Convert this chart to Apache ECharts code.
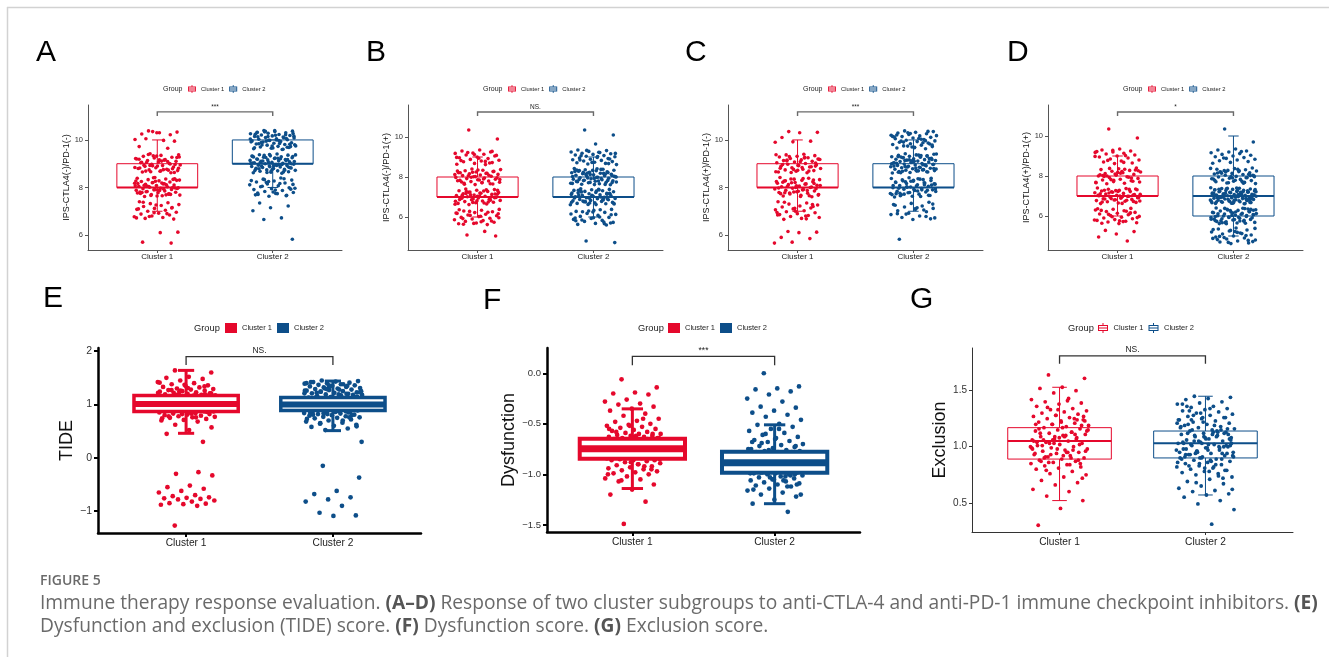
<!DOCTYPE html>
<html>
<head>
<meta charset="utf-8">
<title>Figure 5</title>
<script src="https://cdn.jsdelivr.net/npm/echarts@6/dist/echarts.min.js"></script>
<style>
  html, body { margin: 0; padding: 0; background: #fff; }
  #main { width: 1329px; height: 657px; }
</style>
</head>
<body>
<div id="main"></div>
<script>
// ---- data ----
const categories = ['Cluster 1', 'Cluster 2']
const yTitles = ['IPS-CTLA4(-)/PD-1(-)', 'IPS-CTLA4(-)/PD-1(+)', 'IPS-CTLA4(+)/PD-1(-)', 'IPS-CTLA4(+)/PD-1(+)', 'TIDE', 'Dysfunction', 'Exclusion']
const sigLabels = ['***', 'NS.', '***', '*', 'NS.', '***', 'NS.']
const yTickValues = [[6, 8, 10], [6, 8, 10], [6, 8, 10], [6, 8, 10], [-1, 0, 1, 2], [-1.5, -1, -0.5, 0], [0.5, 1, 1.5]]

// box stats: [min, Q1, median, Q3, max] for Cluster 1, Cluster 2
const boxA = [[7, 8, 8, 9, 10], [8, 9, 9, 10, 10]]
const boxB = [[6, 7, 7, 8, 9], [6, 7, 7, 8, 9]]
const boxC = [[7, 8, 8, 9, 10], [7, 8, 8, 9, 10]]
const boxD = [[6, 7, 7, 8, 9], [5, 6, 7, 8, 10]]
const boxE = [[0.46, 0.87, 1.01, 1.17, 1.64], [0.51, 0.89, 1.0, 1.13, 1.44]]
const boxF = [[-1.14, -0.845, -0.747, -0.648, -0.352], [-1.29, -0.984, -0.885, -0.776, -0.51]]
const boxG = [[0.52, 0.89, 1.05, 1.17, 1.53], [0.57, 0.9, 1.03, 1.14, 1.45]]

// jittered sample values
const ptsA1 = [10.38,10.33,10.3,10.25,10.22,10.35,10.02,9.98,10.05,9.95,10.3,9.72,9.65,
  9.42,9.38,9.35,9.31,9.27,9.24,9.2,9.17,9.13,9.1,9.07,9.04,9.01,8.98,8.95,8.92,8.89,8.86,8.83,8.8,8.77,8.74,8.71,8.68,8.65,8.62,9.33,9.22,9.15,9.05,8.97,8.9,8.82,8.73,8.66,9.28,9.11,8.94,8.79,
  8.42,8.39,8.36,8.33,8.3,8.28,8.25,8.23,8.2,8.18,8.15,8.13,8.1,8.08,8.05,8.03,8.01,7.99,7.97,7.95,7.92,7.9,7.88,7.85,7.83,7.8,7.78,7.75,7.73,7.7,7.68,7.65,7.62,8.34,8.26,8.17,8.11,8.04,7.96,7.87,7.79,7.71,8.21,8.07,7.93,7.82,8.37,7.64,
  7.4,7.36,7.32,7.28,7.24,7.2,7.16,7.12,7.08,7.04,7.0,6.96,6.92,6.88,6.84,6.8,6.77,6.74,6.7,6.67,7.26,7.1,6.9,6.78,
  6.12,6.1,5.7,5.66,
  8.41,8.27,8.16,8.06,7.98,7.89,7.81,7.72,7.66,8.31,8.19,8.09,8.0,7.91,7.77,7.69,9.39,9.26,9.16,9.06,8.99,8.91,8.84,8.75,8.69,8.63,9.32,9.19,9.09,8.93,8.81,8.7,7.38,7.14,6.94,6.72]
const ptsA2 = [10.4,10.37,10.35,10.32,10.3,10.28,10.26,10.23,10.21,10.19,10.17,10.15,10.12,10.1,10.08,10.05,10.03,10.01,9.98,9.96,9.93,9.91,9.88,9.86,9.83,9.81,9.78,9.75,9.73,9.7,9.68,9.65,9.63,9.6,10.34,10.27,10.2,10.13,10.06,9.99,9.92,9.85,9.79,9.72,9.66,10.24,10.09,9.95,9.8,
  9.41,9.38,9.36,9.33,9.31,9.29,9.27,9.25,9.22,9.2,9.18,9.16,9.14,9.12,9.1,9.08,9.06,9.04,9.02,9.0,8.98,8.96,8.94,8.92,8.9,8.88,8.86,8.84,8.82,8.8,8.78,8.76,8.74,8.72,8.7,8.68,8.66,8.64,8.62,8.6,9.35,9.3,9.24,9.19,9.13,9.07,9.01,8.95,8.89,8.83,8.77,8.71,8.65,9.26,9.09,8.93,8.79,9.17,8.87,9.03,
  8.4,8.35,8.31,8.27,8.23,8.19,8.15,8.11,8.07,8.03,7.99,7.95,7.91,7.87,7.83,7.79,7.75,7.71,7.67,7.63,8.29,8.17,8.05,7.93,7.81,7.69,8.37,8.21,7.97,7.74,
  7.35,7.22,7.15,7.02,6.72,6.65,5.82,
  10.39,10.31,10.22,10.14,10.04,9.97,9.89,9.82,9.74,9.67,9.61,10.36,10.16,10.0,9.84,9.69,9.39,9.32,9.21,9.11,9.0,8.91,8.81,8.73,8.63,9.37,9.23,9.05,8.85,8.69,9.28,8.97,8.33,8.13,7.89,7.77,7.65,8.25]
const ptsB1 = [10.35,9.9,
  9.35,9.3,9.25,9.2,9.18,9.14,9.1,9.05,9.0,8.96,8.92,8.88,8.84,8.8,8.76,8.72,8.68,8.64,8.62,9.22,9.08,8.94,8.82,8.7,
  8.4,8.37,8.34,8.31,8.28,8.25,8.22,8.19,8.16,8.13,8.1,8.07,8.04,8.01,7.98,7.95,7.92,7.89,7.86,7.83,7.8,7.77,7.74,7.71,7.68,7.65,7.62,8.3,8.18,8.06,7.96,7.85,7.75,7.66,8.24,8.12,7.9,
  7.4,7.37,7.34,7.31,7.28,7.25,7.22,7.19,7.16,7.13,7.1,7.07,7.04,7.01,6.98,6.95,6.92,6.89,6.86,6.83,6.8,6.77,6.74,6.71,6.68,6.65,6.62,7.33,7.2,7.09,6.99,6.9,6.79,6.7,7.27,7.15,7.03,6.87,6.75,7.11,
  6.38,6.34,6.3,6.26,6.22,6.18,6.14,6.1,6.06,6.02,5.98,5.94,5.9,5.86,5.82,5.78,5.74,5.7,5.66,5.62,6.28,6.16,6.04,5.92,5.8,5.68,6.2,
  5.28,5.1,5.05,
  8.35,8.21,8.09,7.99,7.87,7.72,7.64,8.27,8.02,7.81,7.36,7.24,7.14,7.05,6.94,6.84,6.73,6.64,7.3,7.18,6.96,6.81,6.36,6.24,6.08,5.96,5.76,5.64,9.28,9.12,8.98,8.78]
const ptsB2 = [10.35,10.1,9.65,
  9.35,9.32,9.28,9.25,9.22,9.19,9.16,9.13,9.1,9.07,9.04,9.01,8.98,8.95,8.92,8.89,8.86,8.83,8.8,8.77,8.74,8.71,8.68,8.65,8.62,9.24,9.06,8.9,8.73,
  8.42,8.39,8.36,8.34,8.31,8.29,8.26,8.24,8.21,8.19,8.16,8.14,8.11,8.09,8.06,8.04,8.01,7.99,7.96,7.94,7.91,7.89,7.86,7.84,7.81,7.79,7.76,7.74,7.71,7.69,7.66,7.64,7.61,8.33,8.28,8.18,8.13,8.03,7.98,7.88,7.83,7.73,7.68,8.38,8.23,8.08,7.93,7.78,7.63,8.2,8.0,7.8,
  7.41,7.38,7.36,7.33,7.31,7.28,7.26,7.23,7.21,7.18,7.16,7.13,7.11,7.08,7.06,7.03,7.01,6.98,6.96,6.93,6.91,6.88,6.86,6.83,6.81,6.78,6.76,6.73,6.71,6.68,6.66,6.63,6.61,7.35,7.25,7.15,7.05,6.95,6.85,6.75,6.65,7.3,7.1,6.9,6.7,7.2,7.0,6.8,
  6.38,6.33,6.28,6.23,6.18,6.13,6.08,6.03,5.98,5.93,5.88,5.83,5.78,5.73,5.68,5.63,5.6,6.3,6.15,6.0,5.85,5.7,6.25,5.95,5.75,
  4.8,4.72,
  8.41,8.32,8.22,8.12,8.02,7.92,7.82,7.72,7.62,8.35,8.15,7.95,7.75,7.39,7.29,7.19,7.09,6.99,6.89,6.79,6.69,6.62,7.34,7.14,6.94,6.74,6.36,6.26,6.11,5.96,5.81,5.66,9.33,9.18,9.02,8.85,8.67]
const ptsC1 = [10.35,10.32,10.3,10.1,9.95,9.92,9.9,
  9.4,9.37,9.34,9.31,9.28,9.25,9.22,9.19,9.16,9.13,9.1,9.07,9.04,9.01,8.98,8.95,8.92,8.89,8.86,8.83,8.8,8.77,8.74,8.71,8.68,8.65,8.62,9.3,9.2,9.08,8.97,8.87,8.76,8.66,9.24,9.12,8.9,8.72,
  8.42,8.39,8.36,8.33,8.3,8.27,8.24,8.21,8.18,8.15,8.12,8.09,8.06,8.03,8.0,7.97,7.94,7.91,7.88,7.85,7.82,7.79,7.76,7.73,7.7,7.67,7.64,7.61,8.35,8.25,8.14,8.04,7.95,7.84,7.74,7.65,8.2,8.08,7.9,7.78,8.31,8.0,
  7.4,7.35,7.3,7.26,7.22,7.18,7.14,7.1,7.06,7.02,6.98,6.94,6.9,6.86,6.82,6.78,6.74,6.7,6.66,7.28,7.12,6.95,6.8,
  6.15,6.12,6.1,5.9,5.85,5.7,5.66,
  8.38,8.28,8.17,8.07,7.98,7.87,7.77,7.68,7.62,8.22,8.02,7.81,9.38,9.27,9.15,9.03,8.93,8.81,8.69,8.63,9.18,8.84,7.38,7.2,7.0,6.84,6.68]
const ptsC2 = [10.38,10.35,10.32,10.29,10.26,10.23,10.2,10.17,10.14,10.11,10.08,10.05,10.02,9.99,9.96,9.93,9.9,9.87,9.84,9.81,9.78,9.75,9.72,9.69,9.66,9.63,10.3,10.18,10.06,9.95,9.83,9.7,10.12,9.88,
  9.42,9.4,9.37,9.35,9.33,9.31,9.29,9.27,9.25,9.23,9.21,9.19,9.17,9.15,9.13,9.11,9.09,9.07,9.05,9.03,9.01,8.99,8.97,8.95,8.93,8.91,8.89,8.87,8.85,8.83,8.81,8.79,8.77,8.75,8.73,8.71,8.69,8.67,8.65,8.63,8.61,9.34,9.26,9.18,9.1,9.02,8.94,8.86,8.78,8.7,8.62,9.22,9.06,8.9,8.74,9.14,8.98,8.82,9.3,8.66,
  8.41,8.38,8.35,8.32,8.29,8.26,8.23,8.2,8.17,8.14,8.11,8.08,8.05,8.02,7.99,7.96,7.93,7.9,7.87,7.84,7.81,7.78,7.75,7.72,7.69,7.66,7.63,7.6,8.33,8.24,8.15,8.06,7.97,7.88,7.79,7.7,7.62,8.28,8.1,7.92,7.74,8.19,8.01,7.83,8.37,7.65,
  7.38,7.33,7.28,7.22,7.18,7.12,7.08,7.02,6.98,6.92,6.86,6.8,6.74,6.68,6.65,7.25,7.05,6.88,6.72,7.15,
  5.82,
  10.36,10.27,10.15,10.03,9.91,9.79,9.67,10.21,9.97,9.74,9.41,9.36,9.28,9.2,9.12,9.04,8.96,8.88,8.8,8.72,8.64,9.32,9.16,9.0,8.84,8.68,8.39,8.3,8.21,8.12,8.03,7.94,7.85,7.76,7.67,8.26,8.08,7.9,7.72,7.3,7.1,6.9,6.78]
const ptsD1 = [10.35,9.9,
  9.35,9.3,9.25,9.2,9.18,9.14,9.1,9.05,9.0,8.95,8.9,8.85,8.8,8.75,8.7,8.65,8.62,9.22,9.02,8.78,
  8.4,8.36,8.32,8.28,8.24,8.2,8.16,8.12,8.08,8.04,8.0,7.96,7.92,7.88,7.84,7.8,7.76,7.72,7.68,7.64,7.61,8.3,8.18,8.06,7.94,7.82,7.7,8.22,7.98,7.74,8.1,
  7.4,7.37,7.34,7.31,7.28,7.25,7.22,7.19,7.16,7.13,7.1,7.07,7.04,7.01,6.98,6.95,6.92,6.89,6.86,6.83,6.8,6.77,6.74,6.71,6.68,6.65,6.62,7.33,7.21,7.09,6.97,6.85,6.73,7.27,7.03,6.79,7.15,6.91,7.0,6.7,
  6.38,6.34,6.3,6.26,6.22,6.18,6.14,6.1,6.06,6.02,5.98,5.94,5.9,5.86,5.82,5.78,5.74,5.7,5.66,5.62,6.28,6.12,5.96,5.8,5.72,
  5.28,5.22,5.1,4.95,4.75,
  8.38,8.26,8.14,8.02,7.9,7.78,7.66,8.34,8.0,7.35,7.23,7.11,6.99,6.87,6.75,6.63,7.29,7.05,6.81,6.36,6.24,6.08,5.92,5.76,5.64,6.16,9.28,8.98,8.68]
const ptsD2 = [10.35,9.7,
  9.35,9.3,9.25,9.2,9.16,9.12,9.08,9.04,9.0,8.96,8.92,8.88,8.84,8.8,8.76,8.72,8.68,8.64,9.22,8.9,
  8.4,8.37,8.34,8.31,8.28,8.25,8.22,8.19,8.16,8.13,8.1,8.07,8.04,8.01,7.98,7.95,7.92,7.89,7.86,7.83,7.8,7.77,7.74,7.71,7.68,7.65,7.62,8.33,8.21,8.09,7.97,7.85,7.73,8.27,8.03,7.79,8.15,7.91,7.66,
  7.41,7.39,7.37,7.35,7.33,7.31,7.29,7.27,7.25,7.23,7.21,7.19,7.17,7.15,7.13,7.11,7.09,7.07,7.05,7.03,7.01,6.99,6.97,6.95,6.93,6.91,6.89,6.87,6.85,6.83,6.81,6.79,6.77,6.75,6.73,6.71,6.69,6.67,6.65,6.63,6.61,7.36,7.32,7.28,7.24,7.2,7.16,7.12,7.08,7.04,7.0,6.96,6.92,6.88,6.84,6.8,6.76,6.72,6.68,6.64,7.3,7.22,7.14,7.06,6.98,6.9,6.82,6.74,6.66,7.18,7.02,6.86,6.7,
  6.4,6.37,6.34,6.31,6.28,6.25,6.22,6.19,6.16,6.13,6.1,6.07,6.04,6.01,5.98,5.95,5.92,5.89,5.86,5.83,5.8,5.77,5.74,5.71,5.68,5.65,5.62,6.35,6.27,6.18,6.09,6.0,5.91,5.82,5.73,5.64,6.3,6.12,5.94,5.76,6.21,6.03,5.85,6.39,5.67,6.06,
  5.4,5.35,5.3,5.25,5.2,5.15,5.1,5.05,5.0,4.95,4.9,4.85,4.8,4.75,4.7,4.65,4.62,5.32,5.12,4.92,4.72,5.22,4.82,5.02,4.68,
  8.38,8.26,8.14,8.02,7.9,7.78,7.64,8.2,7.96,7.4,7.34,7.26,7.19,7.1,7.03,6.94,6.87,6.78,6.7,6.62,7.38,7.21,7.07,6.93,6.79,6.64,7.13,6.97,6.38,6.29,6.2,6.11,6.02,5.93,5.84,5.75,5.66,6.33,6.15,5.97,5.79,5.61,5.38,5.18,4.98,4.78,5.28,4.88]
const ptsE1 = [1.64,1.6,1.52,1.5,1.48,1.45,1.42,1.4,1.38,1.36,1.35,1.33,1.32,1.3,1.29,1.28,1.27,1.26,1.25,1.24,1.23,1.22,1.21,1.2,1.19,1.18,1.18,1.17,1.16,1.15,1.15,1.14,1.13,1.12,1.12,1.11,1.1,1.1,1.09,1.08,1.08,1.07,1.06,1.06,1.05,1.05,1.04,1.03,1.03,1.02,1.02,1.01,1.0,1.0,0.99,0.99,0.98,0.97,0.97,0.96,0.96,0.95,0.94,0.94,0.93,0.92,0.92,0.91,0.9,0.9,0.89,0.88,0.87,0.86,0.85,0.84,0.83,0.82,0.81,0.8,0.79,0.78,0.77,0.76,0.75,0.73,0.71,0.7,0.68,0.62,0.57,0.52,0.45,0.3,
  1.26,1.22,1.17,1.13,1.09,1.04,1.0,0.96,0.91,0.87,0.83,0.78,1.19,1.14,1.07,1.01,0.95,0.89,1.31,1.11,0.93,1.24,0.98,1.16,1.06,0.86,1.37,0.74,
  -0.27,-0.3,-0.33,-0.52,-0.55,-0.58,-0.62,-0.65,-0.7,-0.72,-0.74,-0.75,-0.76,-0.77,-0.78,-0.8,-0.82,-0.85,-0.86,-0.87,-0.88,-0.9,-1.27,
  1.21,1.15,1.09,1.03,0.97,0.91,0.85,1.27,1.12,1.02,0.94,0.88,1.18,1.08,0.99,0.9,1.34,0.82,1.41,0.76,1.05,1.2,0.95,1.1,1.0]
const ptsE2 = [1.45,1.44,1.43,1.42,1.41,1.4,1.39,1.38,1.37,1.36,1.35,1.34,1.33,1.32,1.31,1.3,1.29,1.28,1.27,1.26,1.25,1.24,1.23,1.22,1.21,1.2,1.19,1.18,1.17,1.16,1.15,1.14,1.13,1.12,1.11,1.1,1.09,1.08,1.07,1.06,1.05,1.04,1.03,1.02,1.01,1.0,0.99,0.98,0.97,0.96,0.95,0.94,0.93,0.92,0.91,0.9,0.89,0.88,0.87,0.86,0.85,0.84,0.83,0.82,0.81,0.8,0.79,0.78,0.77,0.76,0.75,0.74,0.72,0.7,0.68,0.66,0.64,0.62,0.6,0.58,0.55,0.52,0.3,
  1.28,1.22,1.18,1.14,1.1,1.06,1.02,0.98,0.94,0.9,0.86,0.82,1.26,1.16,1.08,1.0,0.92,0.84,1.2,1.04,0.96,0.88,1.12,0.8,1.33,0.73,1.38,1.24,1.15,1.05,0.95,0.85,1.09,0.99,0.9,1.01,1.13,0.97,1.07,0.93,
  -0.15,-0.37,-0.62,-0.68,-0.74,-0.78,-0.82,-0.9,-1.03,-1.08,-1.09,
  1.42,1.35,1.3,1.25,1.19,1.14,1.1,1.06,1.02,0.98,0.94,0.9,0.86,0.81,0.76,1.29,1.21,1.17,1.11,1.03,0.96,0.91,0.87,0.83,1.23,1.07,0.97,0.89,1.36,1.4,0.7,0.65,0.59]
const ptsF1 = [-0.06,-0.14,-0.19,-0.2,-0.21,-0.26,-0.28,-0.3,-0.31,-0.33,-0.35,-0.37,-0.4,-0.42,-0.45,-0.47,-0.48,-0.5,-0.51,-0.52,-0.53,-0.54,-0.55,-0.56,-0.57,-0.58,-0.59,-0.6,-0.6,-0.61,-0.62,-0.62,-0.63,-0.63,-0.64,-0.64,-0.65,-0.65,-0.66,-0.66,-0.67,-0.67,-0.68,-0.68,-0.69,-0.69,-0.7,-0.7,-0.71,-0.71,-0.72,-0.72,-0.73,-0.73,-0.74,-0.74,-0.75,-0.75,-0.76,-0.76,-0.77,-0.77,-0.78,-0.78,-0.79,-0.79,-0.8,-0.8,-0.81,-0.81,-0.82,-0.82,-0.83,-0.83,-0.84,-0.84,-0.85,-0.85,-0.86,-0.86,-0.87,-0.88,-0.89,-0.9,-0.91,-0.92,-0.93,-0.94,-0.95,-0.96,-0.97,-0.98,-0.99,-1.0,-1.02,-1.04,-1.05,-1.07,-1.1,-1.15,-1.2,-1.27,-1.49,
  -0.64,-0.68,-0.72,-0.76,-0.8,-0.84,-0.66,-0.7,-0.74,-0.78,-0.82,-0.65,-0.73,-0.81,-0.69,-0.77,-0.6,-0.88,-0.55,-0.92,-0.71,-0.75,
  -0.62,-0.67,-0.71,-0.74,-0.77,-0.8,-0.83,-0.86,-0.63,-0.69,-0.75,-0.79,-0.85,-0.9,-0.58,-0.95,-0.52,-1.0,-0.45,-1.06]
const ptsF2 = [0.0,-0.13,-0.15,-0.16,-0.18,-0.21,-0.25,-0.28,-0.33,-0.34,-0.37,-0.39,-0.41,-0.43,-0.46,-0.5,-0.51,-0.53,-0.55,-0.57,-0.59,-0.61,-0.63,-0.64,-0.66,-0.67,-0.68,-0.7,-0.71,-0.72,-0.73,-0.74,-0.75,-0.76,-0.77,-0.77,-0.78,-0.78,-0.79,-0.79,-0.8,-0.8,-0.81,-0.81,-0.82,-0.82,-0.83,-0.83,-0.84,-0.84,-0.85,-0.85,-0.86,-0.86,-0.87,-0.87,-0.88,-0.88,-0.89,-0.89,-0.9,-0.9,-0.91,-0.91,-0.92,-0.92,-0.93,-0.93,-0.94,-0.94,-0.95,-0.95,-0.96,-0.96,-0.97,-0.97,-0.98,-0.98,-0.99,-0.99,-1.0,-1.0,-1.01,-1.02,-1.03,-1.04,-1.05,-1.06,-1.07,-1.08,-1.09,-1.1,-1.11,-1.12,-1.14,-1.16,-1.18,-1.2,-1.22,-1.25,-1.29,-1.37,
  -0.8,-0.83,-0.86,-0.89,-0.92,-0.95,-0.98,-0.81,-0.84,-0.87,-0.9,-0.93,-0.96,-0.99,-0.82,-0.88,-0.94,-1.0,-0.79,-0.85,-0.91,-0.97,-0.86,-0.92,-0.89,-0.78,-1.03,-0.75,-1.06,-0.69,-1.1,-0.65,-1.15,
  -0.78,-0.81,-0.84,-0.87,-0.9,-0.93,-0.96,-0.99,-1.02,-0.8,-0.85,-0.91,-0.95,-1.01,-0.76,-0.88,-0.92,-0.98,-0.72,-1.05,-0.68,-1.12,-0.6,-1.2,-0.55,-0.83,-0.94,-0.97,-0.87]
const ptsG1 = [1.64,1.61,1.53,1.52,1.5,1.48,1.42,1.41,1.4,1.39,1.38,1.36,1.34,1.33,1.32,1.31,1.3,1.29,1.28,1.27,1.26,1.25,1.24,1.23,1.22,1.21,1.2,1.19,1.18,1.17,1.16,1.15,1.14,1.13,1.12,1.11,1.1,1.09,1.08,1.07,1.06,1.05,1.04,1.03,1.02,1.01,1.0,0.99,0.98,0.97,0.96,0.95,0.94,0.93,0.92,0.91,0.9,0.89,0.88,0.87,0.86,0.85,0.84,0.83,0.82,0.81,0.8,0.78,0.76,0.75,0.73,0.7,0.68,0.66,0.62,0.6,0.56,0.52,0.45,0.3,
  1.25,1.2,1.15,1.1,1.06,1.02,0.98,0.94,0.9,0.86,1.23,1.17,1.12,1.07,1.03,0.99,0.95,0.91,1.19,1.08,1.04,0.97,0.93,1.14,1.09,1.01,0.88,1.28,1.05,0.84,1.35,
  1.27,1.22,1.16,1.11,1.06,1.0,0.95,0.9,0.85,1.33,1.2,1.13,1.03,0.96,0.92,0.87,1.24,1.09,0.98,1.43,0.79,0.72]
const ptsG2 = [1.45,1.44,1.43,1.42,1.4,1.39,1.38,1.36,1.35,1.34,1.33,1.32,1.31,1.3,1.29,1.28,1.27,1.26,1.25,1.24,1.23,1.22,1.21,1.2,1.19,1.18,1.17,1.16,1.15,1.14,1.13,1.12,1.11,1.1,1.09,1.08,1.07,1.06,1.05,1.04,1.03,1.02,1.01,1.0,0.99,0.98,0.97,0.96,0.95,0.94,0.93,0.92,0.91,0.9,0.89,0.88,0.87,0.86,0.85,0.84,0.83,0.82,0.81,0.8,0.79,0.78,0.77,0.76,0.75,0.73,0.71,0.69,0.67,0.65,0.63,0.61,0.6,0.58,0.57,0.55,0.52,0.49,0.44,0.31,
  1.32,1.26,1.22,1.18,1.14,1.1,1.06,1.02,0.98,0.94,0.9,0.86,0.82,1.24,1.16,1.08,1.04,1.0,0.96,0.92,0.88,1.2,1.12,1.03,0.95,0.84,1.28,1.07,0.99,0.91,1.15,1.05,0.97,1.11,0.93,1.01,1.09,0.89,1.13,0.94,1.03,0.78,1.36,0.72,
  1.3,1.24,1.19,1.15,1.11,1.07,1.03,0.99,0.95,0.91,0.87,0.83,0.79,1.26,1.17,1.09,1.05,1.01,0.97,0.93,0.89,0.85,1.21,1.13,1.02,0.94,0.81,1.38,0.74,0.68,0.62,1.34,1.12,1.0,0.9]

const captionTitle = 'FIGURE 5'
const captionLines = [
  'Immune therapy response evaluation. {b|(A–D)} Response of two cluster subgroups to anti-CTLA-4 and anti-PD-1 immune checkpoint inhibitors. {b|(E)}',
  'Dysfunction and exclusion (TIDE) score. {b|(F)} Dysfunction score. {b|(G)} Exclusion score.'
]

// ---- layout ----
const colors = ['#E5082C', '#0D4E89']
const FONT = 'Liberation Sans, Arial, sans-serif'
const boxIcon = 'path://M4.5,0H5.5V2H10V8H5.5V10H4.5V8H0V2H4.5Z M1,3V4.5H9V3Z M1,5.5V7H9V5.5Z'

const small = {
  axisColor: '#555', axisWidth: 1, tickLen: 3, tickFont: 7.5, xFont: 8, nameFont: 9, nameGap: 14,
  dot: 3.6, boxW: 0.35, capW: 0.045, boxLW: 1, medLW: 2, whLW: 1, fill: 'none',
  brColor: '#6a6a6a', brLW: 1.4, brFont: 6.5, legFont: 5.8, groupFont: 7, icon: boxIcon, iconW: 8, iconH: 8, legTop: 85, groupY: 89
}
const thick = {
  axisColor: '#000', axisWidth: 2.5, tickLen: 4, tickFont: 10.5, xFont: 10.2, nameFont: 18, nameGap: 13,
  dot: 4.7, boxW: 0.355, capW: 0.055, boxLW: 3.5, medLW: 6, whLW: 3, fill: '#fff',
  brColor: '#333', brLW: 1.3, brFont: 8.5, legFont: 7.5, groupFont: 9.3, icon: 'rect', iconW: 12, iconH: 10, legTop: 323, groupY: 328
}
const thin = Object.assign({}, thick, {
  axisColor: '#333', axisWidth: 1, tickLen: 3, tickFont: 10, dot: 3.8, capW: 0.05, boxLW: 1, medLW: 2, whLW: 1,
  fill: 'none', nameGap: 22, icon: boxIcon, iconW: 11, iconH: 10
})

const panels = [
  { letter: 'A', lp: [36, 53], grid: { left: 88, top: 105, width: 254, height: 145 }, y: [5.37, 11.47], pts: [ptsA1, ptsA2], box: boxA, br: [11.18, 11.01], leg: 188, group: 163, st: small },
  { letter: 'B', lp: [366, 53], grid: { left: 408, top: 105, width: 255, height: 145 }, y: [4.35, 11.6], pts: [ptsB1, ptsB2], box: boxB, br: [11.25, 11.05], leg: 508, group: 483, st: small },
  { letter: 'C', lp: [685, 53], grid: { left: 728, top: 105, width: 255, height: 145 }, y: [5.37, 11.47], pts: [ptsC1, ptsC2], box: boxC, br: [11.18, 11.01], leg: 828, group: 803, st: small },
  { letter: 'D', lp: [1007, 53], grid: { left: 1048, top: 105, width: 255, height: 145 }, y: [4.3, 11.55], pts: [ptsD1, ptsD2], box: boxD, br: [11.2, 11.0], leg: 1148, group: 1123, st: small },
  { letter: 'E', lp: [43, 299], grid: { left: 98, top: 348, width: 323, height: 185 }, y: [-1.41, 2.06], pts: [ptsE1, ptsE2], box: boxE, br: [1.9, 1.74], leg: 225, group: 194, st: thick },
  { letter: 'F', lp: [483, 301], grid: { left: 547, top: 348, width: 313, height: 184 }, y: [-1.57, 0.25], pts: [ptsF1, ptsF2], box: boxF, br: [0.168, 0.079], leg: 668, group: 638, st: Object.assign({}, thick, { boxW: 0.37, capW: 0.075, boxLW: 4, medLW: 7, tickFont: 9.5, nameGap: 26 }) },
  { letter: 'G', lp: [910, 300], grid: { left: 972, top: 348, width: 321, height: 184 }, y: [0.24, 1.88], pts: [ptsG1, ptsG2], box: boxG, br: [1.81, 1.74], leg: 1098, group: 1068, st: thin }
]

// x position spread for the jittered points
function jitter(i) {
  const f = (i * 0.6180339887 + 0.31) % 1
  return (f - 0.5) * 0.4
}

function fmtTick(v, k) {
  const s = k >= 5 ? v.toFixed(1) : String(v)
  return s.replace('-', '\u2212')
}

function boxRender(p) {
  const st = p.st
  return (params, api) => {
    const x = api.value(0)
    const col = colors[params.dataIndex]
    const px = v => api.coord([v, p.y[0]])[0]
    const py = i => api.coord([x, api.value(i)])[1]
    const xc = px(x), xL = px(x - st.boxW), xR = px(x + st.boxW)
    const cL = px(x - st.capW), cR = px(x + st.capW)
    const ln = (x1, y1, x2, y2, w) => ({ type: 'line', shape: { x1, y1, x2, y2 }, style: { stroke: col, lineWidth: w } })
    return {
      type: 'group',
      children: [
        ln(xc, py(4), xc, py(5), st.whLW),
        ln(xc, py(2), xc, py(1), st.whLW),
        ln(cL, py(5), cR, py(5), st.whLW),
        ln(cL, py(1), cR, py(1), st.whLW),
        { type: 'rect', shape: { x: xL, y: py(4), width: xR - xL, height: py(2) - py(4) }, style: { fill: st.fill, stroke: col, lineWidth: st.boxLW } },
        ln(xL, py(3), xR, py(3), st.medLW)
      ]
    }
  }
}

function bracketRender(p, label) {
  const st = p.st
  return (params, api) => {
    const a = api.coord([api.value(0), api.value(3)])
    const b = api.coord([api.value(0), api.value(2)])
    const c = api.coord([api.value(1), api.value(2)])
    const d = api.coord([api.value(1), api.value(3)])
    return {
      type: 'group',
      children: [
        { type: 'polyline', shape: { points: [a, b, c, d] }, style: { stroke: st.brColor, lineWidth: st.brLW, fill: 'none' } },
        { type: 'text', x: (b[0] + c[0]) / 2, y: b[1] - 1.5, style: { text: label, align: 'center', verticalAlign: 'bottom', fontSize: st.brFont, fontFamily: FONT, fill: '#222' } }
      ]
    }
  }
}

const grid = [], xAxis = [], yAxis = [], series = [], legend = [], graphic = []

panels.forEach((p, k) => {
  const st = p.st
  grid.push(p.grid)
  const axisCommon = {
    axisLine: { show: true, onZero: false, lineStyle: { color: st.axisColor, width: st.axisWidth } },
    axisTick: { show: true, length: st.tickLen, lineStyle: { color: st.axisColor, width: Math.min(st.axisWidth, 2) } },
    splitLine: { show: false }
  }
  xAxis.push(Object.assign({
    gridIndex: k, type: 'value', min: 0.4, max: 2.6
  }, axisCommon, {
    axisTick: Object.assign({}, axisCommon.axisTick, { customValues: [1, 2] }),
    axisLabel: { customValues: [1, 2], formatter: v => categories[Math.round(v) - 1], color: '#222', fontSize: st.xFont, fontFamily: FONT, margin: k < 4 ? 3 : 5 }
  }))
  yAxis.push(Object.assign({
    gridIndex: k, type: 'value', min: p.y[0], max: p.y[1],
    name: yTitles[k], nameLocation: 'middle', nameRotate: 90, nameGap: st.nameGap,
    nameTextStyle: { fontSize: st.nameFont, fontFamily: FONT, color: '#111' }
  }, axisCommon, {
    axisTick: Object.assign({}, axisCommon.axisTick, { customValues: yTickValues[k] }),
    axisLabel: { customValues: yTickValues[k], formatter: v => fmtTick(v, k), color: '#333', fontSize: st.tickFont, fontFamily: FONT, margin: st.tickLen + 2 }
  }))

  p.pts.forEach((vals, c) => {
    series.push({
      type: 'scatter', name: categories[c], xAxisIndex: k, yAxisIndex: k, z: 2,
      symbolSize: st.dot, silent: true,
      itemStyle: { color: colors[c], opacity: 1 },
      data: vals.map((v, i) => [c + 1 + jitter(i), v])
    })
  })
  series.push({
    type: 'custom', xAxisIndex: k, yAxisIndex: k, z: 3, silent: true,
    data: p.box.map((s, c) => [c + 1].concat(s)),
    encode: { x: 0, y: [1, 2, 3, 4, 5] },
    renderItem: boxRender(p)
  })
  series.push({
    type: 'custom', xAxisIndex: k, yAxisIndex: k, z: 4, silent: true,
    data: [[1, 2, p.br[0], p.br[1]]],
    encode: { x: [0, 1], y: [2, 3] },
    renderItem: bracketRender(p, sigLabels[k])
  })

  legend.push({
    data: categories, left: p.leg, top: st.legTop, padding: 0, itemGap: 5,
    itemWidth: st.iconW, itemHeight: st.iconH, icon: st.icon, selectedMode: false,
    textStyle: { fontSize: st.legFont, fontFamily: FONT, color: '#222' }
  })
  graphic.push({
    type: 'text', x: p.group, y: st.groupY,
    style: { text: 'Group', fontSize: st.groupFont, fontFamily: FONT, fill: '#222', verticalAlign: 'middle' }
  })
  graphic.push({
    type: 'text', x: p.lp[0], y: p.lp[1],
    style: { text: p.letter, fontSize: 30, fontFamily: FONT, fill: '#000', verticalAlign: 'middle' }
  })
})

// frame and caption
graphic.push({ type: 'line', shape: { x1: 7, y1: 7.5, x2: 1329, y2: 7.5 }, style: { stroke: '#d2d2d2', lineWidth: 1.5 } })
graphic.push({ type: 'line', shape: { x1: 7.5, y1: 7, x2: 7.5, y2: 657 }, style: { stroke: '#d2d2d2', lineWidth: 1.5 } })
graphic.push({
  type: 'text', x: 40, y: 581,
  style: { text: captionTitle, fontSize: 14, fontWeight: 600, fontFamily: 'Open Sans, sans-serif', fill: '#6a6a6a', verticalAlign: 'middle' }
})
const richB = { b: { fontSize: 19.2, fontWeight: 'bold', fontFamily: 'Open Sans, sans-serif', fill: '#555' } }
captionLines.forEach((line, i) => {
  graphic.push({
    type: 'text', x: 40, y: 604 + i * 23,
    style: { text: line, fontSize: 19.2, fontFamily: 'Open Sans, sans-serif', fill: '#6a6a6a', verticalAlign: 'middle', rich: richB }
  })
})

const myChart = echarts.init(document.getElementById('main'), null, { renderer: 'canvas' })
myChart.setOption({
  animation: false,
  backgroundColor: '#fff',
  grid, xAxis, yAxis, series, legend, graphic
})
</script>
</body>
</html>
